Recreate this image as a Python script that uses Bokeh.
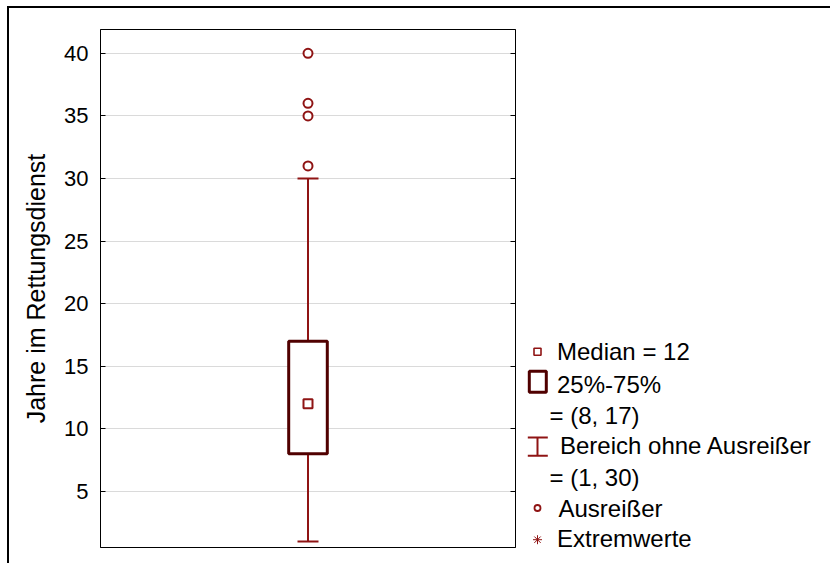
from bokeh.plotting import figure
from bokeh.layouts import column, row
from bokeh.models import Range1d, LinearAxis, FixedTicker, Div, Spacer
from bokeh.core.properties import value
from bokeh.embed import file_html
from bokeh.resources import INLINE

# Jahre im Rettungsdienst: box plot statistics
median = [12]
quartiles = [8, 17]          # 25% / 75%
whisker_range = [1, 30]      # range without outliers
outliers = [31, 35, 36, 40]

y_ticks = [5, 10, 15, 20, 25, 30, 35, 40]

legend_texts = ["Median = 12", "25%-75%", "= (8, 17)",
                "Bereich ohne Ausreißer", "= (1, 30)",
                "Ausreißer", "Extremwerte"]

FONT = "Liberation Sans"
BOX_LINE = "#500000"
RED = "#8f1414"
GRID = "#dadada"

BORDER_TOP, BORDER_BOTTOM = 21, 16

# ---------------- main box plot ----------------
p = figure(width=511, height=555,
           x_range=Range1d(0, 1), y_range=Range1d(0.52, 41.9),
           x_axis_location=None,
           output_backend="svg", toolbar_location=None,
           min_border_left=91, min_border_right=5,
           min_border_top=BORDER_TOP, min_border_bottom=BORDER_BOTTOM,
           margin=0)
p.title = None

p.background_fill_color = "white"
p.border_fill_color = "white"
p.outline_line_color = "black"
p.outline_line_width = 1

# left axis with inward ticks
ya = p.yaxis[0]
ya.ticker = FixedTicker(ticks=y_ticks)
ya.major_tick_in = 5
ya.major_tick_out = 0
ya.minor_tick_line_color = None
ya.axis_line_color = "black"
ya.major_tick_line_color = "black"
ya.major_label_standoff = 12
ya.major_label_text_font = FONT
ya.major_label_text_font_size = "22px"
ya.major_label_text_color = "black"
ya.axis_label = "Jahre im Rettungsdienst"
ya.axis_label_text_font = FONT
ya.axis_label_text_font_size = "25px"
ya.axis_label_text_font_style = "normal"
ya.axis_label_text_color = "black"
ya.axis_label_standoff = 11

# right axis: mirrored ticks only
ra = LinearAxis(ticker=FixedTicker(ticks=y_ticks))
ra.major_tick_in = 5
ra.major_tick_out = 0
ra.minor_tick_line_color = None
ra.major_label_standoff = 0
ra.major_label_text_font_size = "0px"
ra.major_label_text_color = None
ra.axis_line_color = "black"
p.add_layout(ra, "right")

p.xgrid.visible = False
p.ygrid.ticker = FixedTicker(ticks=y_ticks)
p.ygrid.grid_line_color = GRID
p.ygrid.grid_line_width = 1

xc = 0.5
# whisker line and caps
p.segment(x0=[xc], y0=[whisker_range[0]], x1=[xc], y1=[whisker_range[1]],
          line_color=RED, line_width=2)
p.scatter(x=[xc, xc], y=whisker_range, marker="dash", size=21,
          line_color=RED, line_width=2)
# interquartile box
p.vbar(x=[xc], width=0.093, bottom=[quartiles[0]], top=[quartiles[1]],
       fill_color="white", line_color=BOX_LINE, line_width=3)
# median
p.scatter(x=[xc], y=median, marker="square", size=9,
          fill_color="white", line_color=RED, line_width=2)
# outliers
p.scatter(x=[xc] * len(outliers), y=outliers, marker="circle", size=9,
          fill_color="white", line_color=RED, line_width=2)

# ---------------- legend panel (page pixel coordinates) ----------------
# its frame lines up with the main plot frame (page y 29 .. 547)
leg = figure(width=310, height=555,
             x_range=Range1d(520, 830), y_range=Range1d(547, 29),
             x_axis_location=None, y_axis_location=None,
             output_backend="svg", toolbar_location=None,
             min_border_top=BORDER_TOP, min_border_bottom=BORDER_BOTTOM,
             min_border_left=0, min_border_right=0, margin=0)
leg.title = None
leg.outline_line_color = None
leg.grid.visible = False
leg.background_fill_color = "white"
leg.border_fill_color = "white"

text_x = [556.5, 556.5, 549, 559.5, 549, 558, 556.5]
text_y = [351.0, 384.3, 414.6, 445.0, 476.6, 508.3, 538.2]
leg.text(x=text_x, y=text_y, text=legend_texts,
         text_font=value(FONT), text_font_size="24px",
         text_color="black", text_baseline="alphabetic")

icon_x = 537
# median symbol
leg.scatter(x=[icon_x], y=[351.3], marker="square", size=7,
            fill_color="white", line_color=RED, line_width=1.6)
# quartile box symbol
leg.quad(left=[528.8], right=[545.8], top=[370.8], bottom=[391.8],
         fill_color="white", line_color=BOX_LINE, line_width=3)
# whisker symbol
leg.segment(x0=[icon_x, 527.3, 527.3], y0=[437, 437, 455.3],
            x1=[icon_x, 547.3, 547.3], y1=[455.3, 437, 455.3],
            line_color=RED, line_width=2)
# outlier symbol
leg.scatter(x=[icon_x], y=[507.5], marker="circle", size=6,
            fill_color="white", line_color=RED, line_width=1.8)
# extreme value symbol
leg.scatter(x=[icon_x], y=[539.2], marker="asterisk", size=9,
            line_color=RED, line_width=1)

# ---------------- outer frame lines ----------------
top_line = Div(width=823, height=2, margin=0,
               styles={"background-color": "black"})
left_line = Div(width=2, height=555, margin=0,
                styles={"background-color": "black"})

layout = column(
    Spacer(width=830, height=6, margin=0),
    row(Spacer(width=7, height=2, margin=0), top_line, margin=0),
    row(Spacer(width=7, height=555, margin=0), left_line, p, leg, margin=0),
    margin=0,
)

open("out.html", "w").write(file_html(layout, INLINE))
